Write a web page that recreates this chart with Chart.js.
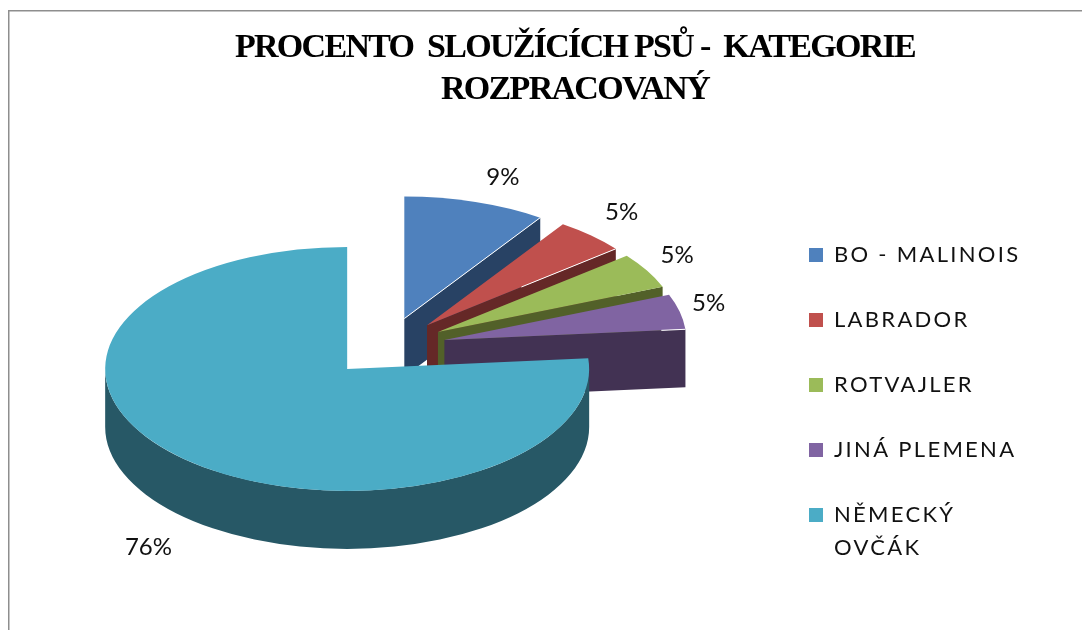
<!DOCTYPE html>
<html>
<head>
<meta charset="utf-8">
<style>html,body{margin:0;padding:0;background:#fff}#wrap{width:1082px;height:630px}canvas{display:block}</style>
<script src="https://cdn.jsdelivr.net/npm/chart.js@4/dist/chart.umd.min.js"></script>
</head>
<body>
<div id="wrap"><canvas id="c" width="1082" height="630"></canvas></div>
<script>
const categories = ["BO - MALINOIS", "LABRADOR", "ROTVAJLER", "JINÁ PLEMENA", ["NĚMECKÝ", "OVČÁK"]];
const shares = [9.49, 4.75, 4.7, 4.65, 76.41];
const topColors = ["#4F81BD", "#C0504D", "#9BBB59", "#8064A2", "#4BACC6"];
const sideColors = ["#284264", "#652827", "#526029", "#423253", "#275866"];
const titleLines = ["PROCENTO  SLOUŽÍCÍCH PSŮ -  KATEGORIE", "ROZPRACOVANÝ"];
const labelNudge = [[12, 0], [-5, -4], [-15, -2], [-22, -2], [0, 11]];
const edgeGlint = [1, 0.5, 0, 0.1, 0];

const view = {cx: 387, cy: 347, radius: 242, tilt: 0.504, depth: 58, explode: 59, labelR: 1.46};

const pie3d = {
  id: 'pie3d',
  afterLayout(chart) {
    const a = chart.chartArea, w = 300;
    a.left = view.cx - w; a.right = view.cx + w;
    a.top = view.cy - w; a.bottom = view.cy + w;
    a.width = 2 * w; a.height = 2 * w;
    const lg = chart.legend;
    lg.left = 766; lg.top = 201;
    lg.right = lg.left + 316; lg.bottom = lg.top + 420;
    if (!lg._ls) {
      lg._ls = true;
      const d = lg.draw;
      lg.draw = function () { const c = chart.ctx; c.save(); c.letterSpacing = '2.3px'; d.apply(lg, arguments); c.restore(); };
      const t = chart.titleBlock, td = t.draw;
      t.draw = function () { const c = chart.ctx; c.save(); c.letterSpacing = '-1.7px'; td.apply(t, arguments); c.restore(); };
    }
    chart.titleBlock.left = 68; chart.titleBlock.right = 1082;
  },
  beforeDraw(chart) {
    const c = chart.ctx;
    c.save();
    c.strokeStyle = '#8E8E8E'; c.lineWidth = 1.5;
    c.beginPath(); c.moveTo(1082, 10.75); c.lineTo(8.75, 10.75); c.lineTo(8.75, 630); c.stroke();
    c.restore();
  },
  beforeDatasetsDraw(chart) {
    const c = chart.ctx, k = view.tilt, arcs = chart.getDatasetMeta(0).data;
    arcs.forEach((arc, i) => {
      const mid = (arc.startAngle + arc.endAngle) / 2;
      const x = arc.x + Math.cos(mid) * view.explode;
      const y = arc.y + Math.sin(mid) * view.explode * k;
      const R = arc.outerRadius, D = view.depth;
      c.fillStyle = sideColors[i];
      const ex = x + Math.cos(arc.endAngle) * R, ey = y + Math.sin(arc.endAngle) * R * k;
      if (Math.cos(arc.endAngle) > 0.001) {
        c.beginPath(); c.moveTo(x, y); c.lineTo(ex, ey); c.lineTo(ex, ey + D); c.lineTo(x, y + D); c.closePath(); c.fill();
      }
      const a0 = Math.max(arc.startAngle, 0), a1 = Math.min(arc.endAngle, Math.PI);
      if (a1 > a0) {
        c.beginPath();
        c.ellipse(x, y, R, R * k, 0, a0, a1);
        c.ellipse(x, y + D, R, R * k, 0, a1, a0, true);
        c.closePath(); c.fill();
      }
      c.save();
      c.translate(x, y); c.scale(1, k); c.translate(-arc.x, -arc.y);
      arc.draw(c);
      c.restore();
      if (edgeGlint[i] > 0) {
        const f = 1 - edgeGlint[i];
        c.save();
        c.strokeStyle = '#fff'; c.lineWidth = 1;
        c.beginPath(); c.moveTo(x + (ex - x) * f, y + (ey - y) * f); c.lineTo(ex, ey); c.stroke();
        c.restore();
      }
    });
    return false;
  },
  afterDraw(chart) {
    const c = chart.ctx, k = view.tilt, arcs = chart.getDatasetMeta(0).data;
    const total = shares.reduce((a, b) => a + b, 0);
    c.save();
    c.font = '24px Lato'; c.fillStyle = '#111'; c.textAlign = 'center'; c.textBaseline = 'middle';
    arcs.forEach((arc, i) => {
      const mid = (arc.startAngle + arc.endAngle) / 2;
      const r = arc.outerRadius * view.labelR;
      const x = arc.x + Math.cos(mid) * r + labelNudge[i][0];
      let y = arc.y + Math.sin(mid) * r * k + labelNudge[i][1];
      if (Math.sin(mid) > 0.2) y += view.depth;
      c.fillText(Math.round(shares[i] / total * 100) + '%', x, y);
    });
    c.restore();
  }
};

new Chart(document.getElementById('c'), {
  type: 'pie',
  data: {
    labels: categories,
    datasets: [{data: shares, backgroundColor: topColors, borderWidth: 0}]
  },
  options: {
    responsive: false,
    animation: false,
    events: [],
    radius: view.radius,
    layout: {padding: 0},
    plugins: {
      title: {
        display: true, text: titleLines, color: '#000',
        font: {family: '"Liberation Serif"', size: 34, weight: 'bold', lineHeight: 1.235},
        padding: {top: 27, bottom: 10}
      },
      legend: {
        position: 'right', align: 'start',
        labels: {
          boxWidth: 14, boxHeight: 14, padding: 43, color: '#111',
          font: {family: 'Lato', size: 22, lineHeight: 1.5}
        }
      },
      tooltip: {enabled: false}
    }
  },
  plugins: [pie3d]
});
</script>
</body>
</html>
